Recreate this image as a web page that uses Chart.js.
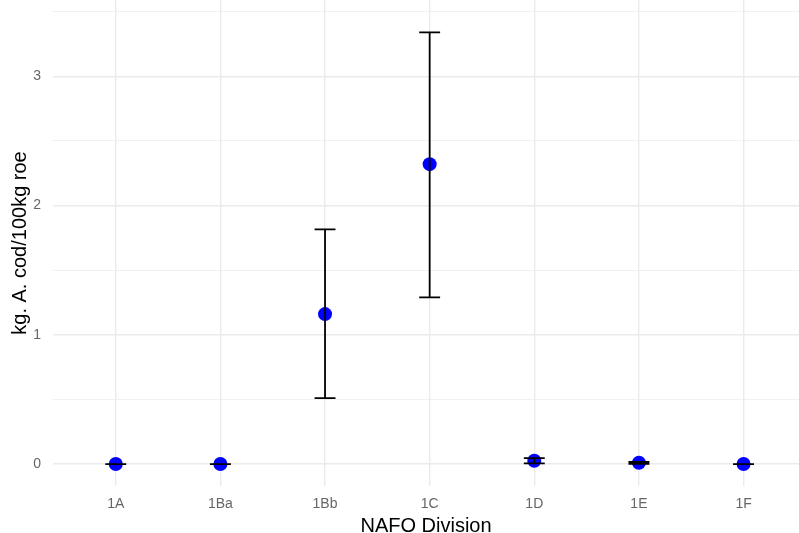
<!DOCTYPE html>
<html>
<head>
<meta charset="utf-8">
<script src="https://cdn.jsdelivr.net/npm/chart.js@4.4.1/dist/chart.umd.min.js"></script>
<style>
  html, body { margin: 0; padding: 0; background: #fff; }
  #wrap { width: 799px; height: 533px; }
</style>
</head>
<body>
<div id="wrap"><canvas id="c"></canvas></div>
<script>
// data
const divisions = ['1A', '1Ba', '1Bb', '1C', '1D', '1E', '1F'];
const means = [0, 0, 1.16, 2.32, 0.025, 0.01, 0];
const lowers = [0, 0, 0.51, 1.29, 0.005, 0.002, 0];
const uppers = [0, 0, 1.815, 3.34, 0.045, 0.017, 0];
const yTicks = [0, 0.5, 1, 1.5, 2, 2.5, 3, 3.5];

const fontFamily = '"Liberation Sans", Arial, sans-serif';
const gridColor = '#ebebeb';

// error bars drawn over the points, like the original
const errorBars = {
  id: 'errorBars',
  afterDatasetsDraw(chart) {
    const ctx = chart.ctx;
    const xs = chart.scales.x, ys = chart.scales.y;
    const half = (xs.getPixelForValue(1) - xs.getPixelForValue(0)) * 0.1;
    ctx.save();
    ctx.strokeStyle = '#000';
    ctx.lineWidth = 1.8;
    divisions.forEach((d, i) => {
      const x = xs.getPixelForValue(i);
      const yl = ys.getPixelForValue(lowers[i]);
      const yu = ys.getPixelForValue(uppers[i]);
      ctx.beginPath();
      ctx.moveTo(x, yl); ctx.lineTo(x, yu);
      ctx.moveTo(x - half, yl); ctx.lineTo(x + half, yl);
      ctx.moveTo(x - half, yu); ctx.lineTo(x + half, yu);
      ctx.stroke();
    });
    ctx.restore();
  }
};

new Chart(document.getElementById('c'), {
  type: 'scatter',
  data: {
    datasets: [{
      data: means.map((v, i) => ({ x: i, y: v })),
      backgroundColor: '#0000ff',
      borderColor: '#0000ff',
      pointRadius: 7,
      pointHoverRadius: 7,
      borderWidth: 0,
      clip: false
    }]
  },
  options: {
    responsive: true,
    maintainAspectRatio: false,
    animation: false,
    layout: { padding: 0, autoPadding: false },
    plugins: {
      legend: { display: false },
      tooltip: { enabled: false }
    },
    scales: {
      x: {
        type: 'linear',
        min: -0.6,
        max: 6.53,
        afterBuildTicks: (axis) => { axis.ticks = divisions.map((d, i) => ({ value: i })); },
        afterFit: (axis) => {
          axis.height = 47;
          axis.paddingLeft = 0; axis.paddingRight = 0;
        },
        border: { display: false },
        grid: { color: gridColor, lineWidth: 1.4, drawTicks: false },
        ticks: {
          padding: 10,
          color: '#666',
          font: { family: fontFamily, size: 14 },
          callback: (v) => divisions[v] ?? ''
        },
        title: {
          display: true,
          text: 'NAFO Division',
          color: '#000',
          font: { family: fontFamily, size: 20, lineHeight: 1 },
          padding: { top: 0, bottom: -3 }
        }
      },
      y: {
        type: 'linear',
        min: -0.17,
        max: 3.59,
        afterBuildTicks: (axis) => { axis.ticks = yTicks.map(v => ({ value: v })); },
        afterFit: (axis) => {
          axis.width = 53;
          axis.paddingTop = 0; axis.paddingBottom = 0;
        },
        border: { display: false },
        grid: {
          color: gridColor,
          drawTicks: false,
          lineWidth: (c) => (c.tick && c.tick.value % 1 === 0) ? 1.4 : 0.7
        },
        ticks: {
          padding: 12,
          color: '#666',
          font: { family: fontFamily, size: 14 },
          callback: (v) => (v % 1 === 0 ? String(v) : '')
        },
        title: {
          display: true,
          text: 'kg. A. cod/100kg roe',
          color: '#000',
          font: { family: fontFamily, size: 20, lineHeight: 1 },
          padding: { top: 10, bottom: 0 }
        }
      }
    }
  },
  plugins: [errorBars]
});
</script>
</body>
</html>
